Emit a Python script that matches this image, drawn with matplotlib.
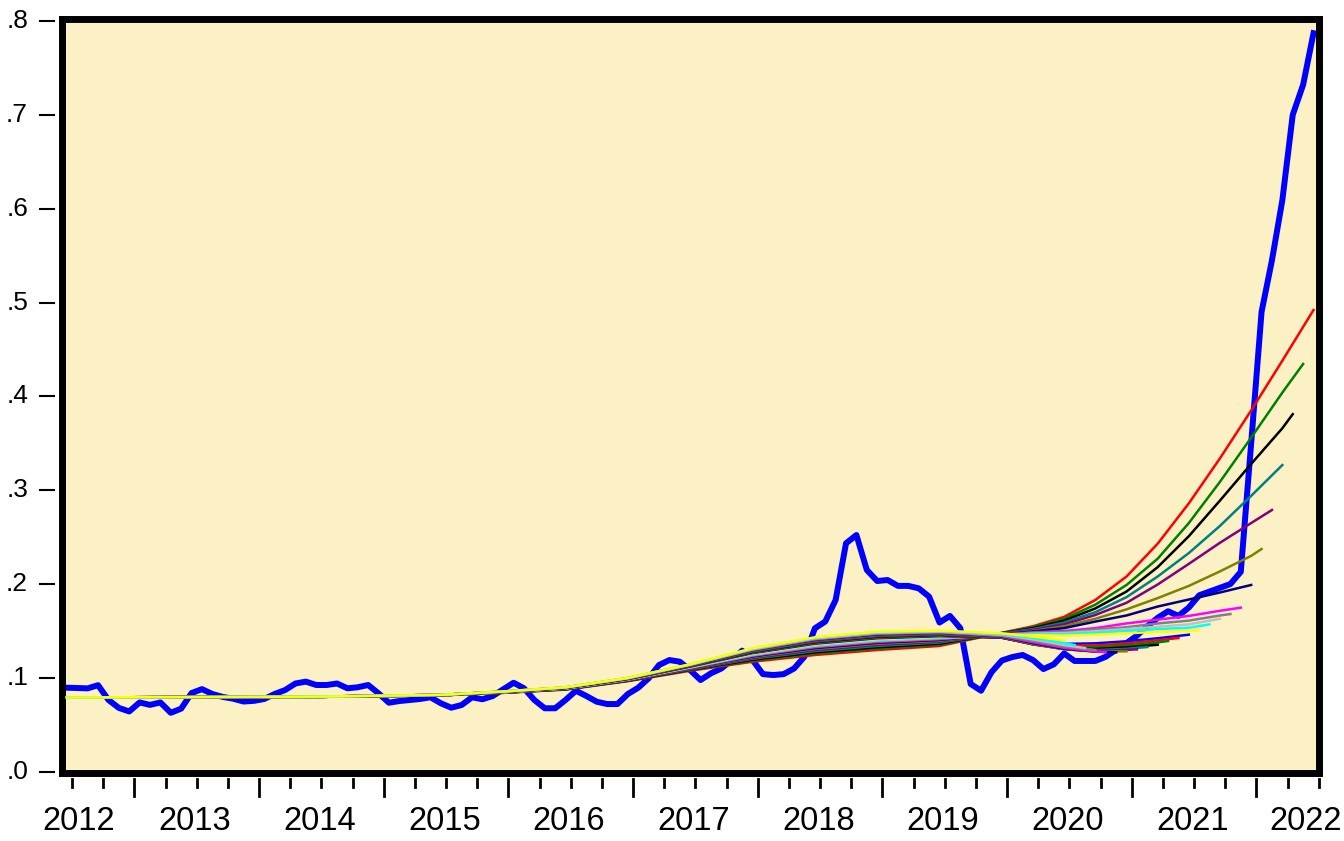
import numpy as np
import matplotlib.pyplot as plt
from matplotlib.transforms import blended_transform_factory

plt.rcParams['font.family'] = ['Liberation Sans', 'DejaVu Sans']

#-------------------------------
# data: monthly series 2012M01 - 2022M01 (month index 0..120)
#-------------------------------
series = [0.0895, 0.0892, 0.0888, 0.0922, 0.0765, 0.0680, 0.0642, 0.0738, 0.0712, 0.0738,
          0.0628, 0.0672, 0.0838, 0.0880, 0.0828, 0.0797, 0.0778, 0.0748, 0.0755, 0.0775,
          0.0828, 0.0870, 0.0940, 0.0960, 0.0924, 0.0924, 0.0940, 0.0889, 0.0900, 0.0924,
          0.0835, 0.0735, 0.0753, 0.0764, 0.0775, 0.0793, 0.0729, 0.0682, 0.0711, 0.0793,
          0.0772, 0.0807, 0.0878, 0.0948, 0.0889, 0.0764, 0.0676, 0.0676, 0.0764, 0.0863,
          0.0807, 0.0746, 0.0721, 0.0721, 0.0828, 0.0895, 0.0995, 0.1137, 0.1190, 0.1172,
          0.1082, 0.0977, 0.1049, 0.1100, 0.1190, 0.1290, 0.1190, 0.1040, 0.1030, 0.1040,
          0.1100, 0.1226, 0.1528, 0.1600, 0.1830, 0.2434, 0.2522, 0.2150, 0.2032, 0.2043,
          0.1980, 0.1980, 0.1954, 0.1865, 0.1590, 0.1660, 0.1530, 0.0935, 0.0863, 0.1060,
          0.1185, 0.1222, 0.1244, 0.1190, 0.1094, 0.1144, 0.1260, 0.1180, 0.1180, 0.1180,
          0.1225, 0.1300, 0.1370, 0.1450, 0.1550, 0.1640, 0.1710, 0.1660, 0.1750, 0.1880,
          0.1920, 0.1960, 0.2000, 0.2130, 0.3500, 0.4900, 0.5450, 0.6090, 0.7000, 0.7320,
          0.7870]

# trend estimates, read at these months (plus each line's own last month)
trend_grid = [0, 24, 36, 42, 48, 54, 60, 66, 72, 78, 84, 90, 93, 96, 99, 102, 105, 108, 111, 114, 117]

trend_96 = [.0791, .0800, .0819, .0855, .0900, .1000, .1145, .1315, .1432, .1492, .1503, .1475, .1440, .1400]
trend_97 = [.0791, .0800, .0819, .0855, .0899, .0999, .1143, .1311, .1426, .1486, .1498, .1468, .1425, .1370, .1350]
trend_98 = [.0791, .0800, .0819, .0854, .0899, .0998, .1141, .1306, .1421, .1480, .1493, .1460, .1410, .1350, .1318]
trend_99 = [.0791, .0800, .0819, .0854, .0898, .0997, .1139, .1302, .1415, .1474, .1488, .1452, .1395, .1335, .1297]
trend_100 = [.0791, .0800, .0819, .0853, .0897, .0996, .1137, .1298, .1409, .1469, .1483, .1445, .1380, .1320, .1282, .1275]
trend_101 = [.0791, .0800, .0819, .0853, .0896, .0995, .1135, .1294, .1404, .1463, .1479, .1440, .1370, .1310, .1280, .1272]
trend_102 = [.0791, .0800, .0819, .0852, .0896, .0994, .1133, .1289, .1398, .1457, .1474, .1435, .1362, .1305, .1280, .1283]
trend_103 = [.0791, .0800, .0819, .0852, .0895, .0993, .1131, .1285, .1393, .1451, .1469, .1432, .1358, .1305, .1285, .1298, .1304]
trend_104 = [.0791, .0800, .0819, .0851, .0894, .0992, .1128, .1281, .1387, .1445, .1464, .1430, .1356, .1310, .1295, .1310, .1329]
trend_105 = [.0791, .0800, .0817, .0851, .0893, .0991, .1126, .1276, .1381, .1439, .1459, .1428, .1358, .1318, .1308, .1325, .1353]
trend_106 = [.0791, .0800, .0817, .0851, .0893, .0990, .1124, .1272, .1376, .1433, .1454, .1427, .1362, .1330, .1325, .1345, .1378, .1393]
trend_107 = [.0791, .0800, .0817, .0850, .0892, .0988, .1122, .1268, .1370, .1428, .1449, .1428, .1370, .1345, .1345, .1368, .1400, .1425]
trend_108 = [.0791, .0800, .0817, .0850, .0891, .0987, .1120, .1264, .1364, .1422, .1444, .1432, .1380, .1362, .1368, .1390, .1422, .1460]
trend_109 = [.0789, .0797, .0817, .0849, .0890, .0986, .1117, .1258, .1357, .1414, .1438, .1445, .1455, .1450, .1460, .1475, .1490, .1500, .1510]
trend_110 = [.0789, .0797, .0817, .0848, .0889, .0985, .1115, .1252, .1349, .1406, .1431, .1450, .1465, .1465, .1480, .1500, .1520, .1535, .1570]
trend_111 = [.0789, .0797, .0814, .0848, .0888, .0983, .1112, .1246, .1342, .1398, .1425, .1455, .1472, .1477, .1497, .1520, .1545, .1570, .1630]
trend_112 = [.0789, .0797, .0814, .0847, .0887, .0982, .1109, .1241, .1334, .1391, .1418, .1460, .1480, .1490, .1515, .1540, .1580, .1610, .1665, .1680]
trend_113 = [.0789, .0797, .0814, .0847, .0886, .0980, .1106, .1235, .1327, .1383, .1412, .1463, .1485, .1500, .1530, .1580, .1620, .1660, .1715, .1748]
trend_114 = [.0789, .0797, .0814, .0846, .0885, .0979, .1103, .1228, .1317, .1373, .1404, .1466, .1495, .1530, .1600, .1665, .1760, .1835, .1910, .1990]
trend_115 = [.0789, .0797, .0814, .0845, .0884, .0977, .1099, .1221, .1308, .1363, .1395, .1469, .1500, .1550, .1630, .1730, .1850, .1980, .2135, .2300, .2373]
trend_116 = [.0789, .0797, .0814, .0844, .0882, .0975, .1095, .1212, .1297, .1352, .1386, .1472, .1510, .1570, .1670, .1800, .1995, .2215, .2440, .2650, .2789]
trend_117 = [.0789, .0797, .0814, .0843, .0881, .0973, .1091, .1203, .1285, .1340, .1376, .1474, .1520, .1590, .1700, .1860, .2080, .2330, .2620, .2940, .3268]
trend_118 = [.0789, .0797, .0814, .0842, .0879, .0970, .1086, .1193, .1272, .1326, .1364, .1476, .1530, .1610, .1740, .1920, .2180, .2510, .2890, .3280, .3660, .3810]
trend_119 = [.0789, .0797, .0814, .0841, .0877, .0968, .1082, .1183, .1259, .1313, .1353, .1478, .1540, .1630, .1780, .1990, .2270, .2650, .3090, .3560, .4040, .4345]
trend_120 = [.0789, .0797, .0814, .0840, .0875, .0965, .1076, .1172, .1244, .1297, .1340, .1480, .1550, .1650, .1830, .2080, .2430, .2860, .3340, .3850, .4380, .4920]

trend_ends = list(range(96, 121))
trends = [trend_96, trend_97, trend_98, trend_99, trend_100, trend_101, trend_102,
          trend_103, trend_104, trend_105, trend_106, trend_107, trend_108, trend_109,
          trend_110, trend_111, trend_112, trend_113, trend_114, trend_115, trend_116,
          trend_117, trend_118, trend_119, trend_120]

years = list(range(2012, 2023))
ytick_vals = [0.0, 0.1, 0.2, 0.3, 0.4, 0.5, 0.6, 0.7, 0.8]
ytick_text = ['.0', '.1', '.2', '.3', '.4', '.5', '.6', '.7', '.8']

# eviews colour cycle (series 1 = blue data line)
palette = ['#0000FF', '#FF0000', '#008000', '#000000', '#008080', '#800080', '#808000',
           '#000080', '#FF00FF', '#808080', '#C0C0C0', '#00FFFF', '#FFFF00']

#-------------------------------
# figure
#-------------------------------
W, H = 1344, 841
fig = plt.figure(figsize=(W / 100, H / 100), dpi=100)
ax = fig.add_axes([61.7 / W, 1 - 773.3 / H, 1257 / W, 754 / H])
ax.set_facecolor('#FBF1C5')

months = np.arange(len(series))
ax.plot(months, series, color='#0000FF', lw=4.3, solid_joinstyle='round', zorder=2)

# longest sample drawn first, shortest on top
for k in range(len(trends) - 1, -1, -1):
    end = trend_ends[k]
    xs = [g for g in trend_grid if g < end] + [end]
    ax.plot(xs, trends[k], color=palette[(120 - end + 1) % 13], lw=1.8,
            solid_joinstyle='round', zorder=3 + (120 - end))

ax.set_xlim(-0.5, 120.5)
ax.set_ylim(-0.0017, 0.8018)
ax.set_xticks([])
ax.set_yticks([])
for s in ax.spines.values():
    s.set_linewidth(5.0)
    s.set_color('black')

# detached tick marks, eviews style
ty = blended_transform_factory(ax.transAxes, ax.transData)
for v, t in zip(ytick_vals, ytick_text):
    ax.plot([-0.0173, -0.0061], [v, v], transform=ty, color='black', lw=1.5, clip_on=False)
    ax.text(-0.0268, v, t, transform=ty, ha='right', va='center', fontsize=19)

tx = blended_transform_factory(ax.transData, ax.transAxes)
for q in np.arange(0.5, 121, 3):
    low = -0.0301 if (q - 6.5) % 12 == 0 else -0.0182
    ax.plot([q, q], [-0.0076, low], transform=tx, color='black', lw=2.0, clip_on=False)

label_pos = np.clip(np.arange(len(years)) * 12 + 0.33, 1.1, 119.2)
for p, y in zip(label_pos, years):
    ax.text(p, -0.0639, str(y), transform=tx, ha='center', va='center', fontsize=23.5)

fig.savefig('out.png', dpi=100)
